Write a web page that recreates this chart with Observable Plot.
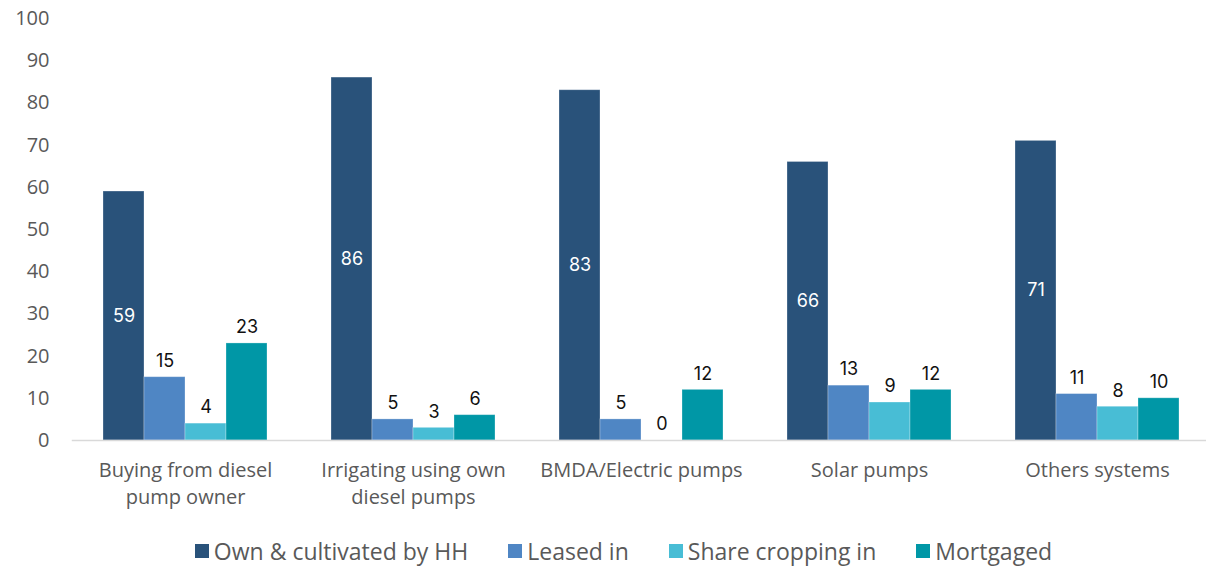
<!DOCTYPE html>
<html>
<head>
<meta charset="utf-8">
<script src="https://cdn.jsdelivr.net/npm/d3@7"></script>
<script src="https://cdn.jsdelivr.net/npm/@observablehq/plot@0.6"></script>
<style>
  html, body { margin: 0; padding: 0; background: #fff; }
  #chart { width: 1206px; }
  .legend { display: flex; justify-content: center; align-items: center; height: 43px;
            font-family: "Open Sans", sans-serif; font-size: 23px; color: #595959;
            padding-left: 41px; padding-top: 8px; box-sizing: border-box; }
  .legend .item { display: flex; align-items: center; margin: 0 20px; }
  .legend .sw { width: 14px; height: 14px; margin-right: 5px; }
</style>
</head>
<body>
<div id="chart"></div>
<script>
// Irrigation methods (x groups) and land tenure types (series)
const categories = [
  "Buying from diesel\npump owner",
  "Irrigating using own\ndiesel pumps",
  "BMDA/Electric pumps",
  "Solar pumps",
  "Others systems"
];
const series = ["Own & cultivated by HH", "Leased in", "Share cropping in", "Mortgaged"];
const colors = ["#29527a", "#4f86c4", "#48bdd5", "#0097a6"];

// Percent of households, one array per series, in category order
const ownCultivated = [59, 86, 83, 66, 71];
const leasedIn      = [15, 5, 5, 13, 11];
const shareCropping = [4, 3, 0, 9, 8];
const mortgaged     = [23, 6, 12, 12, 10];

const yTicks = [0, 10, 20, 30, 40, 50, 60, 70, 80, 90, 100];

const seriesValues = [ownCultivated, leasedIn, shareCropping, mortgaged];
const data = [];
categories.forEach((c, i) => {
  series.forEach((s, j) => data.push({category: c, series: s, value: seriesValues[j][i]}));
});

const chart = Plot.plot({
  width: 1206,
  height: 525,
  marginLeft: 101,
  marginRight: 25,
  marginTop: 18,
  marginBottom: 85,
  style: {fontFamily: "'Open Sans', sans-serif", color: "#595959", background: "#fff"},
  fx: {domain: categories, paddingInner: 0.2735, paddingOuter: 0, label: null},
  x: {domain: series, axis: null, padding: 0},
  y: {domain: [0, 100], label: null},
  color: {domain: series, range: colors},
  marks: [
    Plot.axisY({ticks: yTicks, tickSize: 0, tickPadding: 53, fontSize: 20, label: null, fill: "#595959"}),
    Plot.axisFx({anchor: "bottom", tickSize: 0, tickPadding: 17, fontSize: 20, lineHeight: 1.35,
                 label: null, fill: "#595959"}),
    Plot.barY(data, {fx: "category", x: "series", y: "value", fill: "series",
                     stroke: "#ffffff", strokeOpacity: 0.35, strokeWidth: 0.8}),
    // baseline across the full plot width
    Plot.frame({anchor: "bottom", facet: "super", stroke: "#d9d9d9", strokeWidth: 1.5,
                insetLeft: -30, insetRight: -25}),
    // value labels: white inside the tall bars, black above the others
    Plot.text(data.filter(d => d.series === series[0]), {
      fx: "category", x: "series", y: d => d.value / 2, text: d => String(d.value),
      fill: "white", fontSize: 18, fontFamily: "Inter, sans-serif"
    }),
    Plot.text(data.filter(d => d.series !== series[0]), {
      fx: "category", x: "series", y: "value", text: d => String(d.value),
      dy: -16, fill: "#111", fontSize: 18, fontFamily: "Inter, sans-serif"
    })
  ]
});
document.getElementById("chart").appendChild(chart);

// Legend below the plot
const legend = d3.select("#chart").append("div").attr("class", "legend");
const items = legend.selectAll(".item").data(series).join("div").attr("class", "item");
items.append("div").attr("class", "sw").style("background", (d, i) => colors[i]);
items.append("span").text(d => d);
</script>
</body>
</html>
